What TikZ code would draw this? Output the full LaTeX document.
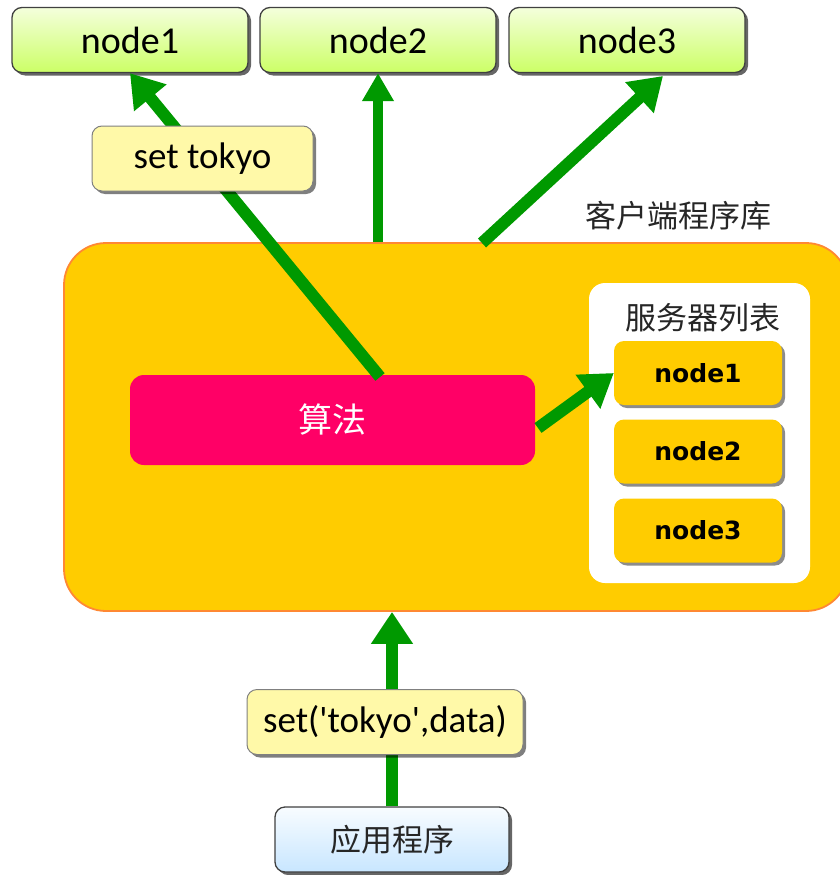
\documentclass[tikz,border=0pt]{standalone}
\usepackage{fontspec}
\setmainfont{Carlito}
\newfontfamily\cjk{Noto Sans CJK SC}
\newfontfamily\dv{DejaVu Sans}
\usetikzlibrary{arrows.meta,shadows,calc}
\definecolor{arrowgreen}{HTML}{009900}
\definecolor{boxyellow}{HTML}{FFCC00}
\definecolor{boxorange}{HTML}{FF8833}
\definecolor{algopink}{HTML}{FF0066}
\definecolor{labelyellow}{HTML}{FFF9A8}
\definecolor{greentop}{HTML}{F4FFDC}
\definecolor{greenbot}{HTML}{CCFF66}
\definecolor{bluetop}{HTML}{F8FCFF}
\definecolor{bluebot}{HTML}{C8E6FF}
\definecolor{edgegray}{HTML}{404040}
\tikzset{
  topnode/.style={rectangle, rounded corners=10pt, draw=edgegray, line width=1.3pt,
    top color=greentop, bottom color=greenbot, minimum width=236pt, minimum height=65pt,
    inner sep=0pt, font=\fontsize{38}{42}\selectfont,
    drop shadow={shadow xshift=3pt, shadow yshift=-3pt, fill=black, opacity=0.6}},
  labelbox/.style={rectangle, rounded corners=10pt, draw=gray, line width=1pt,
    fill=labelyellow, inner sep=0pt, minimum height=65pt, font=\fontsize{37}{40}\selectfont,
    drop shadow={shadow xshift=3pt, shadow yshift=-3pt, fill=black, opacity=0.5}},
  innernode/.style={rectangle, rounded corners=10pt, fill=boxyellow, minimum width=168pt,
    minimum height=64pt, inner sep=0pt, font=\dv\bfseries\fontsize{25}{30}\selectfont,
    drop shadow={shadow xshift=3pt, shadow yshift=-3pt, fill=black, opacity=0.45}},
  flow/.style={draw=arrowgreen, line width=12pt, -{Triangle[length=32pt,width=40pt]}},
  cjktext/.style={font=\cjk\fontsize{31}{36}\selectfont, text=black!85}
}
\begin{document}
\begin{tikzpicture}[x=1pt,y=-1pt]
\useasboundingbox (0,0) rectangle (840,875);
% big client library box
\node[rectangle, rounded corners=42pt, draw=boxorange, line width=1.8pt, fill=boxyellow,
  minimum width=784pt, minimum height=368pt, inner sep=0pt] (big) at (456,427) {};
\node[cjktext] (lib) at (678,216) {客户端程序库};
% top nodes
\node[topnode] (n1) at (130,40) {node1};
\node[topnode] (n2) at (378,40) {node2};
\node[topnode] (n3) at (627,40) {node3};
% algorithm
\node[rectangle, rounded corners=14pt, fill=algopink, minimum width=405pt, minimum height=90pt,
  inner sep=0pt, font=\cjk\fontsize{34}{38}\selectfont, text=white] (algo) at (332.5,420) {算法};
% server list
\node[rectangle, rounded corners=16pt, fill=white, minimum width=221pt, minimum height=300pt,
  inner sep=0pt] (list) at (699.5,433) {};
\node[cjktext] (listlabel) at (703,318) {服务器列表};
\node[innernode] (in1) at (698,373) {node1};
\node[innernode] (in2) at (698,451.5) {node2};
\node[innernode] (in3) at (698,530.5) {node3};
% application
\node[rectangle, rounded corners=10pt, draw=edgegray, line width=1.3pt,
  top color=bluetop, bottom color=bluebot, minimum width=234pt, minimum height=65pt,
  inner sep=0pt, cjktext,
  drop shadow={shadow xshift=3pt, shadow yshift=-3pt, fill=black, opacity=0.6}] (app) at (392,839.5) {应用程序};
% connectors
\coordinate (a1) at (380,377);
\coordinate (t3) at (663,76);
\coordinate (s3) at (482,243);
\coordinate (s4) at (538,428);
\draw[flow] (a1) -- (n1.south);
\draw[flow, -{Triangle[length=28pt,width=30pt]}, line width=10pt] (n2.south |- big.north) -- (n2.south);
\draw[flow] (s3) -- (t3);
\draw[flow] (s4) -- (in1.west);
\draw[flow] (app.north) -- (app.north |- big.south);
% labels on connectors
\node[labelbox, minimum width=221pt] (lbl1) at (202.5,158.5) {set tokyo};
\node[labelbox, minimum width=276pt] (lbl2) at (385,722) {set(\textquotesingle tokyo\textquotesingle,data)};
\end{tikzpicture}
\end{document}
